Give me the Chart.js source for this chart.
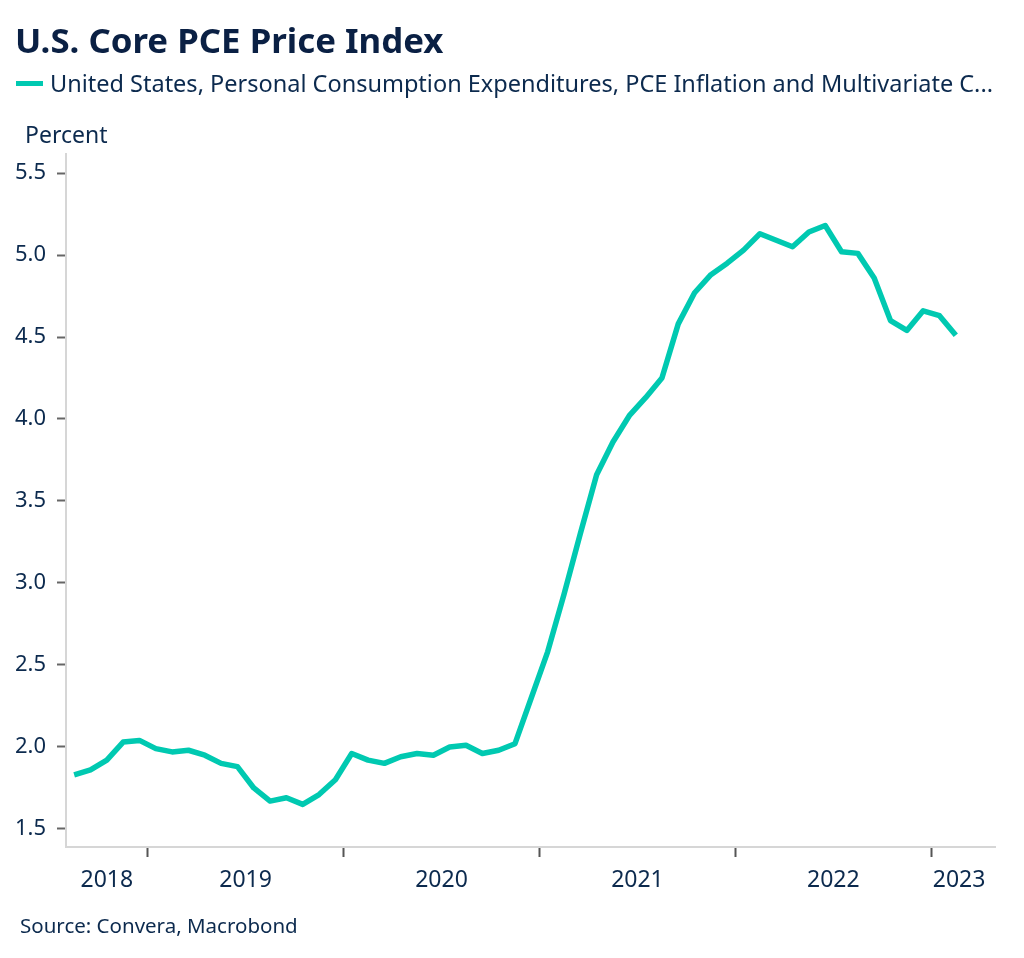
<!DOCTYPE html>
<html>
<head>
<meta charset="utf-8">
<script src="https://cdn.jsdelivr.net/npm/chart.js@4"></script>
<style>
  html, body { margin:0; padding:0; background:#fff; }
  body { width:1024px; height:958px; position:relative; overflow:hidden; font-family:"Noto Sans", "Open Sans", sans-serif; color:#0c2a4e; }
  #chartWrap { position:absolute; left:0; top:0; width:1024px; height:958px; }
  .txt { position:absolute; white-space:nowrap; line-height:1; }
  #title { left:15px; top:23px; font-size:34.8px; font-weight:700; color:#0a2044; }
  #legend { left:16px; top:72px; font-size:23.5px; }
  #legend .sw { display:inline-block; width:27px; height:5px; background:#00c9b1; vertical-align:middle; margin-right:7px; position:relative; top:-2px; }
  #unit { left:25px; top:123px; font-size:23px; }
  #source { left:20px; top:915px; font-size:20.5px; }
</style>
</head>
<body>
<div id="chartWrap"><canvas id="c" width="1024" height="958"></canvas></div>
<div class="txt" id="title">U.S. Core PCE Price Index</div>
<div class="txt" id="legend"><span class="sw"></span><span id="legText"></span></div>
<div class="txt" id="unit">Percent</div>
<div class="txt" id="source">Source: Convera, Macrobond</div>
<script>
// ---- data ----
const months = [
  '2018-08','2018-09','2018-10','2018-11','2018-12',
  '2019-01','2019-02','2019-03','2019-04','2019-05','2019-06','2019-07','2019-08','2019-09','2019-10','2019-11','2019-12',
  '2020-01','2020-02','2020-03','2020-04','2020-05','2020-06','2020-07','2020-08','2020-09','2020-10','2020-11','2020-12',
  '2021-01','2021-02','2021-03','2021-04','2021-05','2021-06','2021-07','2021-08','2021-09','2021-10','2021-11','2021-12',
  '2022-01','2022-02','2022-03','2022-04','2022-05','2022-06','2022-07','2022-08','2022-09','2022-10','2022-11','2022-12',
  '2023-01','2023-02'
];
const pceValues = [
  1.83, 1.86, 1.92, 2.03, 2.04,
  1.99, 1.97, 1.98, 1.95, 1.90, 1.88, 1.75, 1.67, 1.69, 1.65, 1.71, 1.80,
  1.96, 1.92, 1.90, 1.94, 1.96, 1.95, 2.00, 2.01, 1.96, 1.98, 2.02, 2.30,
  2.58, 2.93, 3.30, 3.66, 3.86, 4.02, 4.13, 4.25, 4.58, 4.77, 4.88, 4.95,
  5.03, 5.13, 5.09, 5.05, 5.14, 5.18, 5.02, 5.01, 4.86, 4.60, 4.54, 4.66,
  4.63, 4.51
];
const yearLabels = ['2018','2019','2020','2021','2022','2023'];
const yTicks = [1.5, 2.0, 2.5, 3.0, 3.5, 4.0, 4.5, 5.0, 5.5];
const seriesName = 'United States, Personal Consumption Expenditures, PCE Inflation and Multivariate C...';

document.getElementById('legText').textContent = seriesName;

// month index relative to Jan 2019 (mid-month)
function monthPos(s){ const [y,m] = s.split('-').map(Number); return (y-2019)*12 + (m-1) + 0.5; }
const points = months.map((m,i)=>({x: monthPos(m), y: pceValues[i]}));

const X_MIN = -5, X_MAX = 51.9;
const yearBounds = yearLabels.slice(1).map(y => (Number(y)-2019)*12);
const labelPos = yearLabels.map((y,i)=>{
  const a = Math.max(X_MIN, (Number(y)-2019)*12);
  const b = Math.min(X_MAX, (Number(y)-2018)*12);
  return (a+b)/2 - (i===yearLabels.length-1 ? 0.25 : 0);
});

const navy = '#0c2a4e';
new Chart(document.getElementById('c'), {
  type: 'line',
  data: { datasets: [{
    label: seriesName,
    data: points,
    borderColor: '#00c9b1',
    borderWidth: 5.5,
    pointRadius: 0,
    tension: 0,
    borderJoinStyle: 'round',
    fill: false
  }]},
  options: {
    responsive: false,
    animation: false,
    events: [],
    layout: { padding: { top: 154, right: 29, bottom: 59, left: 0 } },
    plugins: { legend: { display: false }, tooltip: { enabled: false }, title: { display: false } },
    scales: {
      x: {
        type: 'linear', position: 'bottom', min: X_MIN, max: X_MAX,
        afterBuildTicks: s => { s.ticks = yearBounds.map(v=>({value:v})); },
        afterFit: s => { s.height = 12; },
        ticks: { display: false },
        grid: { drawOnChartArea: false, drawTicks: true, tickLength: 10, tickColor: '#555', tickWidth: 2 },
        border: { display: true, color: '#d6d6d6', width: 2 }
      },
      x2: {
        type: 'linear', position: 'bottom', min: X_MIN, max: X_MAX,
        afterBuildTicks: s => { s.ticks = labelPos.map(v=>({value:v})); },
        afterFit: s => { s.height = 40; },
        ticks: { autoSkip: false, maxRotation: 0, padding: 8, color: navy,
                 font: { family: '"Noto Sans", sans-serif', size: 23 },
                 callback: (v, i) => yearLabels[i] },
        grid: { display: false, drawTicks: false },
        border: { display: false }
      },
      y: {
        type: 'linear', position: 'left', min: 1.39, max: 5.616,
        afterBuildTicks: s => { s.ticks = yTicks.map(v=>({value:v})); },
        afterFit: s => { s.width = 66; },
        ticks: { padding: 11, color: navy, font: { family: '"Noto Sans", sans-serif', size: 22 },
                 callback: v => Number(v).toFixed(1) },
        grid: { drawOnChartArea: false, drawTicks: true, tickLength: 9, tickColor: '#666', tickWidth: 2 },
        border: { display: true, color: '#d6d6d6', width: 2 }
      }
    }
  }
});
</script>
</body>
</html>
